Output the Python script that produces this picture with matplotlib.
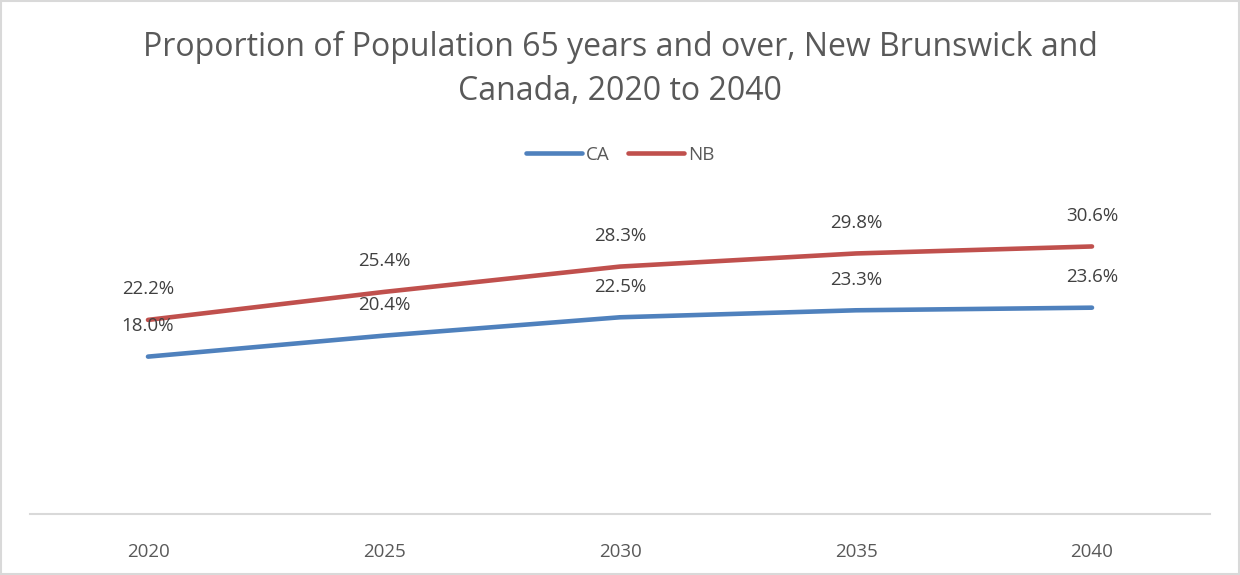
import matplotlib
matplotlib.use("Agg")
from matplotlib import pyplot as plt

# projected share of population aged 65+
years = ["2020", "2025", "2030", "2035", "2040"]
ca = [18.0, 20.4, 22.5, 23.3, 23.6]
nb = [22.2, 25.4, 28.3, 29.8, 30.6]

blue = "#4F81BD"
red = "#C0504D"

plt.rcParams["font.family"] = ["Open Sans", "DejaVu Sans"]

fig = plt.figure(figsize=(12.4, 5.75), dpi=100)
# plot area placed inside the chart frame
ax = fig.add_axes([30 / 1240, 61 / 575, 1180 / 1240, 306 / 575])

x = range(len(years))
ax.plot(x, ca, color=blue, lw=3.3, solid_capstyle="round", label="CA")
ax.plot(x, nb, color=red, lw=3.3, solid_capstyle="round", label="NB")

# data labels sit above each point
for series in (ca, nb):
    for i, v in enumerate(series):
        ax.annotate(f"{v:.1f}%", (i, v), xytext=(0, 22), textcoords="offset points",
                    ha="center", va="center", fontsize=13.5, color="#404040")

ax.set_xlim(-0.5, len(years) - 0.5)
ax.set_ylim(0, 35)
ax.set_xticks(list(x))
ax.set_xticklabels(years, fontsize=13.5, color="#595959")
ax.tick_params(axis="x", length=0, pad=21)
ax.set_yticks([])
for s in ("left", "right", "top"):
    ax.spines[s].set_visible(False)
ax.spines["bottom"].set_color("#D9D9D9")
ax.spines["bottom"].set_linewidth(1.5)

fig.text(0.5, 1 - 47 / 575, "Proportion of Population 65 years and over, New Brunswick and",
         ha="center", va="center", fontsize=23, color="#595959")
fig.text(0.5, 1 - 92 / 575, "Canada, 2020 to 2040",
         ha="center", va="center", fontsize=23, color="#595959")

fig.legend(loc="center", bbox_to_anchor=(0.5, 1 - 155 / 575), ncol=2, frameon=False,
           fontsize=13.5, handlelength=3.0, handletextpad=0.2, columnspacing=1.0,
           labelcolor="#595959")

# outer chart frame
fig.patches.append(plt.Rectangle((0.001, 0.001), 0.998, 0.998, transform=fig.transFigure,
                                 fill=False, edgecolor="#D9D9D9", lw=1.5))

fig.savefig("out.png", dpi=100)
